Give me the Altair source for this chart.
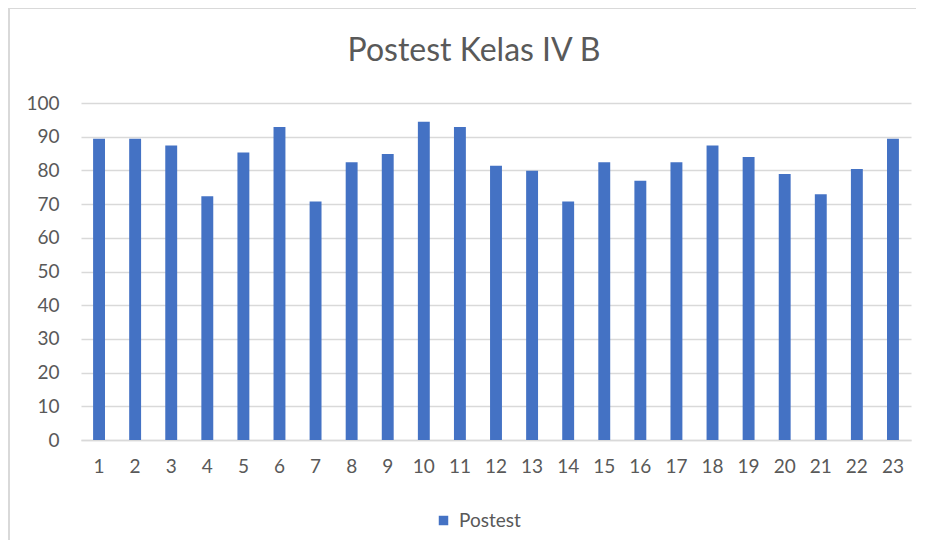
import altair as alt
import pandas as pd

students = [str(i) for i in range(1, 24)]
scores = [89.4, 89.4, 87.4, 72.3, 85.3, 92.9, 70.8, 82.4, 84.9, 94.4, 92.9, 81.4,
          79.9, 70.8, 82.4, 76.9, 82.4, 87.4, 84.0, 78.9, 72.9, 80.4, 89.4]
series_name = "Postest"
title_text = "Postest Kelas IV B"
y_ticks = list(range(0, 101, 10))

df = pd.DataFrame({"siswa": students, "nilai": scores, "seri": [series_name] * len(students)})

FONT = "Lato"
GRAY = "#595959"
GRID = "#d9d9d9"

bars = alt.Chart(df).mark_bar(color="#4472C4").encode(
    x=alt.X("siswa:N", sort=students, title=None,
            scale=alt.Scale(paddingInner=0.67, paddingOuter=0.335),
            axis=alt.Axis(labelAngle=0, labelFontSize=19, labelColor=GRAY, labelFont=FONT,
                          labelPadding=17, ticks=False, domainColor=GRID, domainWidth=1.5,
                          grid=False)),
    y=alt.Y("nilai:Q", title=None,
            scale=alt.Scale(domain=[0, 100], nice=False),
            axis=alt.Axis(values=y_ticks, labelFontSize=19, labelColor=GRAY, labelFont=FONT,
                          labelPadding=22, ticks=False, domain=False, gridColor=GRID,
                          gridWidth=1.5)),
    color=alt.Color("seri:N", scale=alt.Scale(range=["#4472C4"]),
                    legend=alt.Legend(title=None, orient="none", legendX=353, legendY=408,
                                      direction="horizontal", symbolType="square",
                                      symbolSize=90, symbolStrokeWidth=0, padding=0,
                                      labelFontSize=19, labelColor=GRAY, labelFont=FONT,
                                      labelOffset=6)),
)

title_df = pd.DataFrame({"t": [title_text]})
title_mark = alt.Chart(title_df).mark_text(
    font=FONT, fontSize=32, color=GRAY, align="center", baseline="middle"
).encode(text="t:N", x=alt.value(393), y=alt.value(-52))

frame_top = alt.Chart(df).mark_rule(color=GRID, strokeWidth=1.5).encode(
    x=alt.value(-72), x2=alt.value(840), y=alt.value(-95)
)
frame_left = alt.Chart(df).mark_rule(color=GRID, strokeWidth=1.5).encode(
    x=alt.value(-72), y=alt.value(-95), y2=alt.value(440)
)

chart = alt.layer(frame_top, frame_left, title_mark, bars).properties(
    width=830, height=337,
    autosize=alt.AutoSizeParams(type="none"),
    padding={"left": 73, "top": 95, "right": 5, "bottom": 100},
).configure_view(stroke=None)

chart.save("out.html", embed_options={"renderer": "svg", "actions": False})
